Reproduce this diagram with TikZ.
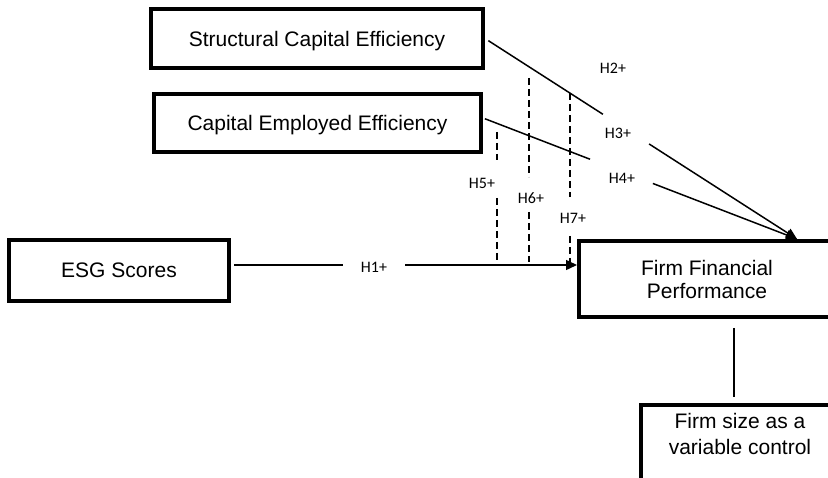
\documentclass[tikz,border=0pt]{standalone}
\usepackage{fontspec}
\setmainfont{Liberation Sans}
\newfontfamily\labfont{Carlito}
\usetikzlibrary{arrows.meta,calc}
\begin{document}
\begin{tikzpicture}[x=1pt,y=-1pt,
  box/.style={draw, line width=4pt, rectangle, inner sep=0pt, align=center,
              font=\fontsize{21}{24}\selectfont},
  conn/.style={line width=1.5pt},
  arr/.style={conn, -{Triangle[length=11pt,width=10pt]}},
  dsh/.style={line width=1.3pt, dash pattern=on 7pt off 4pt},
  lab/.style={font=\labfont\fontsize{16}{18}\selectfont, inner sep=0pt}]
\useasboundingbox (0,0) rectangle (828,478);
\clip (0,0) rectangle (828,478);
\fill[white] (0,0) rectangle (828,478);

% boxes
\node[box, minimum width=332pt, minimum height=59pt, text depth=0pt] (sce) at (317,38.5) {Structural Capital Efficiency};
\node[box, minimum width=327pt, minimum height=58pt, text depth=0pt] (cee) at (317.5,123) {Capital Employed Efficiency};
\node[box, minimum width=220pt, minimum height=61pt] (esg) at (119,270.5) {ESG Scores};
\node[box, minimum width=256pt, minimum height=76pt, font=\fontsize{21}{23}\selectfont] (ffp) at (707,279) {Firm Financial\\Performance};
\node[box, minimum width=198pt, minimum height=100pt, anchor=north west] (fsz) at (639,403) {};
\node[font=\fontsize{21}{26}\selectfont, align=center, inner sep=0pt, anchor=north] (fsztext) at (740,413) {Firm size as a\\variable control};

% key points
\coordinate (tip) at ([xshift=90pt]ffp.north);
\coordinate (ceS) at ([yshift=5pt]cee.east);
\coordinate (h1s) at ([yshift=5.5pt]esg.east);
\coordinate (h1e) at ([yshift=14pt]ffp.west);

% H1
\draw[conn, shorten <=3pt] (h1s) -- ($(h1s)!0.324!(h1e)$);
\draw[arr] ($(h1s)!0.503!(h1e)$) -- (h1e);
% structural capital -> FFP
\draw[conn, shorten <=4pt] (sce.east) -- ($(sce.east)!0.378!(tip)$);
\draw[arr] ($(sce.east)!0.526!(tip)$) -- (tip);
% capital employed -> FFP
\draw[conn, shorten <=2pt] (ceS) -- ($(ceS)!0.341!(tip)$);
\draw[arr] ($(ceS)!0.541!(tip)$) -- (tip);

% moderation dashed lines
\coordinate (h5a) at (497,132); \coordinate (h5b) at (497,160);
\coordinate (h5c) at (497,198); \coordinate (h5d) at (497,260);
\coordinate (h6a) at (529,78);  \coordinate (h6b) at (529,177);
\coordinate (h6c) at (529,212); \coordinate (h6d) at (529,262);
\coordinate (h7a) at (570,93);  \coordinate (h7b) at (570,197);
\coordinate (h7c) at (570,236); \coordinate (h7d) at (570,262);
\draw[dsh] (h5a) -- (h5b);
\draw[dsh] (h5c) -- (h5d);
\draw[dsh] (h6a) -- (h6b);
\draw[dsh] (h6c) -- (h6d);
\draw[dsh] (h7a) -- (h7b);
\draw[dsh] (h7c) -- (h7d);

% control
\draw[line width=1.3pt] ([xshift=27pt,yshift=-9pt]ffp.south) -- ([xshift=-6pt,yshift=6pt]fsz.north);

% labels
\node[lab] (l1) at (374,267) {H1+};
\node[lab] (l2) at (613,68) {H2+};
\node[lab] (l3) at (618,133) {H3+};
\node[lab] (l4) at (622,178) {H4+};
\node[lab] (l5) at (482,183) {H5+};
\node[lab] (l6) at (531,198) {H6+};
\node[lab] (l7) at (573,218) {H7+};
\end{tikzpicture}
\end{document}
